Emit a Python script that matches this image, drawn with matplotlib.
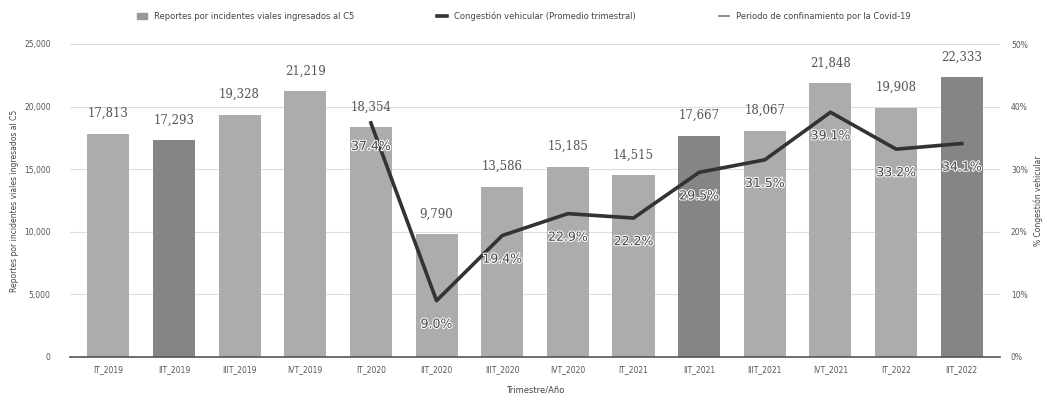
import numpy as np
import matplotlib.pyplot as plt
from matplotlib.lines import Line2D
from matplotlib.patches import Patch
import matplotlib.patheffects as pe

quarters = ["IT_2019", "IIT_2019", "IIIT_2019", "IVT_2019",
            "IT_2020", "IIT_2020", "IIIT_2020", "IVT_2020",
            "IT_2021", "IIT_2021", "IIIT_2021", "IVT_2021",
            "IT_2022", "IIT_2022"]
reports = [17813, 17293, 19328, 21219, 18354, 9790, 13586,
           15185, 14515, 17667, 18067, 21848, 19908, 22333]
congestion = [37.4, 9.0, 19.4, 22.9, 22.2, 29.5, 31.5, 39.1, 33.2, 34.1]
congestion_start = 4
dark_bars = [1, 9, 13]

fig = plt.figure(figsize=(10.47, 4.0), dpi=100)
ax = fig.add_axes([0.067, 0.1075, 0.888, 0.7825])
ax2 = ax.twinx()

x = np.arange(len(quarters))
colors = ["#858585" if i in dark_bars else "#acacac" for i in x]
ax.bar(x, reports, width=0.64, color=colors, zorder=2)
for xi, v in zip(x, reports):
    ax.annotate(f"{v:,}", (xi, v), xytext=(0, 10), textcoords="offset points",
                ha="center", va="bottom", fontsize=8.5, color="#555555",
                family="DejaVu Serif")

ax.set_ylim(0, 25000)
ax.set_yticks(np.arange(0, 25001, 5000))
ax.set_yticklabels([f"{v:,}" for v in range(0, 25001, 5000)])
ax.set_xlim(-0.58, 13.58)
ax.set_xticks(x)
ax.set_xticklabels(quarters)
ax.grid(axis="y", color="#dddddd", lw=0.8, zorder=0)
ax.set_axisbelow(True)
ax.tick_params(labelsize=5.5, colors="#555555", length=0, pad=6)
ax.tick_params(axis="y", pad=14)
for s in ["top", "left", "right"]:
    ax.spines[s].set_visible(False)
ax.spines["bottom"].set_color("#555555")
ax.spines["bottom"].set_linewidth(1.2)
ax.set_ylabel("Reportes por incidentes viales ingresados al C5", fontsize=5.5, color="#444444")
ax.set_xlabel("Trimestre/Año", fontsize=6, color="#444444", labelpad=8)

cx = x[congestion_start:]
ax2.plot(cx, congestion, color="#333333", lw=2.6, zorder=3)
for xi, v in zip(cx, congestion):
    ax2.annotate(f"{v}%", (xi, v), xytext=(0, -17), textcoords="offset points",
                 ha="center", va="center", fontsize=9, color="#444444",
                 path_effects=[pe.withStroke(linewidth=1.5, foreground="white")])
ax2.set_ylim(0, 50)
ax2.set_yticks(np.arange(0, 51, 10))
ax2.set_yticklabels([f"{v}%" for v in range(0, 51, 10)])
ax2.tick_params(labelsize=5.5, colors="#555555", length=0, pad=8)
for s in ax2.spines.values():
    s.set_visible(False)
ax2.set_ylabel("% Congestión vehicular", fontsize=5.5, color="#444444", rotation=90)

handles = [Patch(color="#999999"),
           Line2D([], [], color="#333333", lw=2.6),
           Line2D([], [], color="#777777", lw=1.2)]
labels = ["Reportes por incidentes viales ingresados al C5",
          "Congestión vehicular (Promedio trimestral)",
          "Periodo de confinamiento por la Covid-19"]
fig.legend(handles, labels, loc="upper center", bbox_to_anchor=(0.5, 0.99), ncol=3,
           frameon=False, fontsize=6, columnspacing=10, handlelength=1.2,
           labelcolor="#444444")

fig.savefig("out.png", dpi=100)
